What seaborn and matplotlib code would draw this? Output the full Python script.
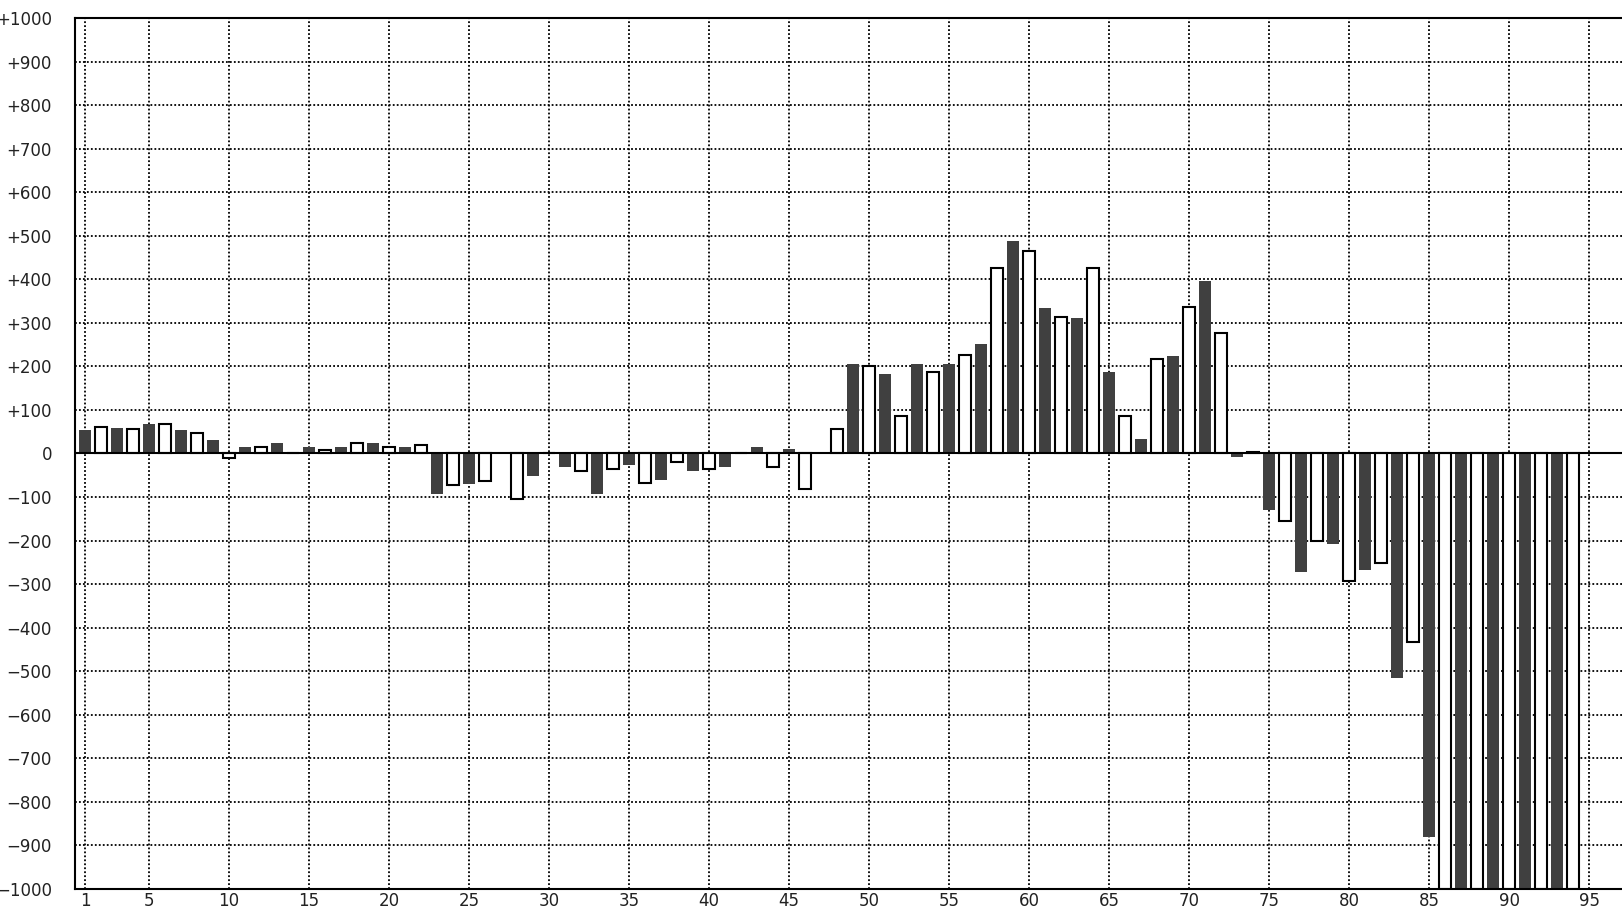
import matplotlib
matplotlib.use("Agg")
import matplotlib.pyplot as plt
import seaborn as sns
import pandas as pd

sns.set_theme(style="white")
plt.rcParams['font.family'] = ['DejaVu Sans']

# bar positions 1..94, odd = dark, even = open
positions = list(range(1, 95))
values = [
    54, 60, 58, 57, 68, 67, 54, 47, 30, -10,
    15, 14, 25, 0, 15, 9, 15, 24, 25, 14,
    15, 19, -92, -73, -69, -63, 0, -105, -51, 0,
    -31, -40, -92, -35, -27, -68, -60, -20, -41, -35,
    -31, 0, 15, -30, 10, -82, 0, 57, 206, 200,
    183, 86, 206, 186, 206, 227, 252, 427, 488, 464,
    335, 314, 311, 427, 188, 86, 34, 218, 224, 336,
    397, 277, -7, 4, -129, -155, -271, -200, -208, -293,
    -267, -251, -515, -432, -880, -1000, -1000, -1000, -1000, -1000,
    -1000, -1000, -1000, -1000,
]
x_ticks = [1, 5, 10, 15, 20, 25, 30, 35, 40, 45, 50, 55, 60, 65, 70, 75, 80, 85, 90, 95]
y_ticks = list(range(-1000, 1001, 100))
y_labels = [("+%d" % v if v > 0 else ("\u2212%d" % -v if v < 0 else "0")) for v in y_ticks]

df = pd.DataFrame({
    "pos": positions,
    "value": values,
    "kind": ["dark" if p % 2 else "light" for p in positions],
})

fig = plt.figure(figsize=(16.22, 9.10), dpi=100)
ax = fig.add_axes([75 / 1622, 21 / 910, (1630 - 75) / 1622, 871 / 910])

sns.barplot(data=df, x="pos", y="value", hue="kind",
            palette={"dark": "#404040", "light": "white"},
            dodge=False, native_scale=True, width=0.72, saturation=1,
            errorbar=None, legend=False, ax=ax)

# open bars get a black outline, filled bars none
for bar in ax.patches:
    fc = bar.get_facecolor()
    if fc[0] > 0.9:
        bar.set_edgecolor("black")
        bar.set_linewidth(1.5)
    else:
        bar.set_linewidth(0)

ax.axhline(0, color="black", lw=1.5, zorder=3)

ax.set_xlim(0.375, 1 + (1630 - 85) / 16)
ax.set_ylim(-1000, 1000)
ax.set_xticks(x_ticks)
ax.set_xticklabels([str(t) for t in x_ticks])
ax.set_yticks(y_ticks)
ax.set_yticklabels(y_labels)
ax.set_xlabel("")
ax.set_ylabel("")

ax.grid(True, color="black", linestyle=(0, (1, 1.2)), linewidth=1.3)
ax.set_axisbelow(True)
ax.tick_params(axis="both", length=0, labelsize=12, colors="#222222")
ax.tick_params(axis="y", pad=16.5)
ax.tick_params(axis="x", pad=2)

for side in ["top", "left", "bottom"]:
    ax.spines[side].set_color("black")
    ax.spines[side].set_linewidth(1.5)
ax.spines["right"].set_visible(False)

fig.savefig("out.png", dpi=100)
